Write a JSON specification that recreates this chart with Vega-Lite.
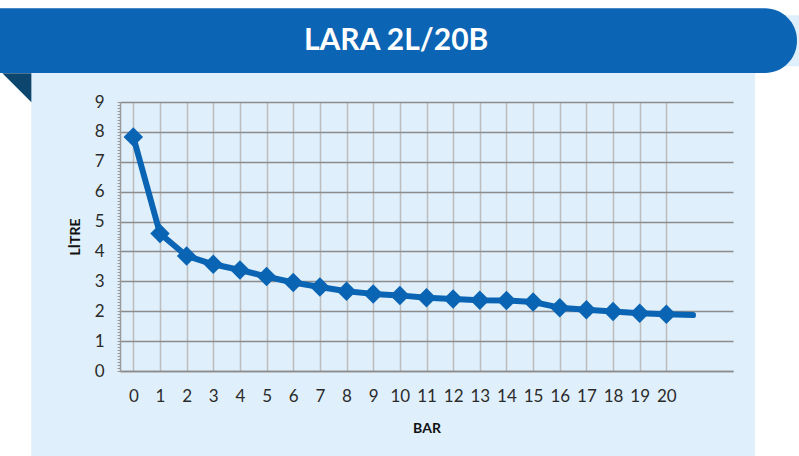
{
  "$schema": "https://vega.github.io/schema/vega-lite/v6.json",
  "width": 613,
  "height": 269,
  "autosize": {"type": "none"},
  "padding": {"left": 120, "top": 102, "right": 66, "bottom": 85},
  "background": "#dfeffb",
  "config": {
    "view": {"stroke": null},
    "font": "Lato",
    "axisX": {
      "tickCount": 23,
      "labelExpr": "datum.value >= 0 && datum.value <= 20 ? datum.label : ''",
      "ticks": false, "labelPadding": 17, "labelFontSize": 17, "labelColor": "#2b2b2b", "labelFont": "Lato",
      "titleFont": "Lato", "titleFontSize": 14, "titleFontWeight": "bold", "titleColor": "#111111", "titlePadding": 17,
      "grid": true, "gridColor": "#bdbdbd", "gridWidth": 1.5,
      "domainColor": "#8c8c8c", "domainWidth": 1.5, "labelOverlap": false
    },
    "axisY": {
      "tickCount": 90, "format": ".0f",
      "labelExpr": "abs(datum.value - round(datum.value)) < 0.001 ? datum.label : ''",
      "labelOverlap": false, "labelPadding": 13, "labelFontSize": 17, "labelColor": "#2b2b2b", "labelFont": "Lato",
      "ticks": true, "tickSize": 3, "tickColor": "#9a9a9a", "tickWidth": 1,
      "titleFont": "Lato", "titleFontSize": 14, "titleFontWeight": "bold", "titleColor": "#111111", "titlePadding": 12,
      "grid": true, "gridColor": "#8c8c8c", "gridWidth": 1.5,
      "domainColor": "#9a9a9a", "domainWidth": 1.5
    }
  },
  "data": {"values": [
    {"bar": 0, "litre": 7.83},
    {"bar": 1, "litre": 4.6},
    {"bar": 2, "litre": 3.85},
    {"bar": 3, "litre": 3.57},
    {"bar": 4, "litre": 3.38},
    {"bar": 5, "litre": 3.16},
    {"bar": 6, "litre": 2.96},
    {"bar": 7, "litre": 2.81},
    {"bar": 8, "litre": 2.67},
    {"bar": 9, "litre": 2.58},
    {"bar": 10, "litre": 2.53},
    {"bar": 11, "litre": 2.45},
    {"bar": 12, "litre": 2.41},
    {"bar": 13, "litre": 2.37},
    {"bar": 14, "litre": 2.36},
    {"bar": 15, "litre": 2.31},
    {"bar": 16, "litre": 2.12},
    {"bar": 17, "litre": 2.05},
    {"bar": 18, "litre": 1.99},
    {"bar": 19, "litre": 1.93},
    {"bar": 20, "litre": 1.9},
    {"bar": 21, "litre": 1.87}
  ]},
  "layer": [
    {
      "mark": {"type": "line", "color": "#0a64b4", "strokeWidth": 6, "strokeCap": "round", "strokeJoin": "round"},
      "encoding": {
        "x": {
          "field": "bar", "type": "quantitative", "title": "BAR",
          "scale": {"domain": [-0.5, 22.5], "nice": false, "zero": false},
          "axis": {"gridOpacity": {"condition": {"test": "datum.value >= 0 && datum.value <= 20", "value": 1}, "value": 0}}
        },
        "y": {
          "field": "litre", "type": "quantitative", "title": "LİTRE",
          "scale": {"domain": [0, 9], "nice": false, "zero": false},
          "axis": {"gridOpacity": {"condition": {"test": "abs(datum.value - round(datum.value)) < 0.001", "value": 1}, "value": 0}}
        }
      }
    },
    {
      "transform": [{"filter": "datum.bar <= 20"}],
      "mark": {"type": "point", "shape": "diamond", "filled": true, "opacity": 1, "color": "#0a64b4", "size": 380},
      "encoding": {
        "x": {"field": "bar", "type": "quantitative", "title": "BAR", "scale": {"domain": [-0.5, 22.5], "nice": false, "zero": false}},
        "y": {"field": "litre", "type": "quantitative", "title": "LİTRE", "scale": {"domain": [0, 9], "nice": false, "zero": false}}
      }
    },
    {
      "data": {"values": [{"part": "top"}]},
      "mark": {"type": "rect", "color": "#ffffff", "clip": false},
      "encoding": {
        "x": {"datum": -5.2, "type": "quantitative", "title": "BAR", "scale": {"domain": [-0.5, 22.5], "nice": false, "zero": false}},
        "x2": {"datum": 25.2},
        "y": {"datum": 12.5, "type": "quantitative", "title": "LİTRE", "scale": {"domain": [0, 9], "nice": false, "zero": false}},
        "y2": {"datum": 11.9}
      }
    },
    {
      "data": {"values": [{"part": "left"}]},
      "mark": {"type": "rect", "color": "#ffffff", "clip": false},
      "encoding": {
        "x": {"datum": -5.2, "type": "quantitative", "title": "BAR", "scale": {"domain": [-0.5, 22.5], "nice": false, "zero": false}},
        "x2": {"datum": -3.83},
        "y": {"datum": 10.2, "type": "quantitative", "title": "LİTRE", "scale": {"domain": [0, 9], "nice": false, "zero": false}},
        "y2": {"datum": -3}
      }
    },
    {
      "data": {"values": [{"part": "right"}]},
      "mark": {"type": "rect", "color": "#ffffff", "clip": false},
      "encoding": {
        "x": {"datum": 23.33, "type": "quantitative", "title": "BAR", "scale": {"domain": [-0.5, 22.5], "nice": false, "zero": false}},
        "x2": {"datum": 25.2},
        "y": {"datum": 10.2, "type": "quantitative", "title": "LİTRE", "scale": {"domain": [0, 9], "nice": false, "zero": false}},
        "y2": {"datum": -3}
      }
    },
    {
      "data": {"values": [{"part": "fold"}]},
      "mark": {"type": "point", "shape": "M -1 -1 L 1 -1 L 1 1 Z", "filled": true, "opacity": 1, "color": "#0c466e", "size": 841, "clip": false},
      "encoding": {
        "x": {"datum": -4.37, "type": "quantitative", "title": "BAR", "scale": {"domain": [-0.5, 22.5], "nice": false, "zero": false}},
        "y": {"datum": 9.48, "type": "quantitative", "title": "LİTRE", "scale": {"domain": [0, 9], "nice": false, "zero": false}}
      }
    },
    {
      "data": {"values": [{"part": "banner"}]},
      "mark": {"type": "rect", "color": "#0b64b4", "cornerRadiusTopRight": 32, "cornerRadiusBottomRight": 32, "clip": false},
      "encoding": {
        "x": {"datum": -5.2, "type": "quantitative", "title": "BAR", "scale": {"domain": [-0.5, 22.5], "nice": false, "zero": false}},
        "x2": {"datum": 24.9},
        "y": {"datum": 12.14, "type": "quantitative", "title": "LİTRE", "scale": {"domain": [0, 9], "nice": false, "zero": false}},
        "y2": {"datum": 9.97}
      }
    },
    {
      "data": {"values": [{"label": "LARA 2L/20B"}]},
      "mark": {"type": "text", "color": "#ffffff", "font": "Lato", "fontWeight": "bold", "fontSize": 30, "align": "center", "baseline": "middle", "clip": false},
      "encoding": {
        "x": {"datum": 9.86, "type": "quantitative", "title": "BAR", "scale": {"domain": [-0.5, 22.5], "nice": false, "zero": false}},
        "y": {"datum": 11.04, "type": "quantitative", "title": "LİTRE", "scale": {"domain": [0, 9], "nice": false, "zero": false}},
        "text": {"field": "label"}
      }
    }
  ]
}
